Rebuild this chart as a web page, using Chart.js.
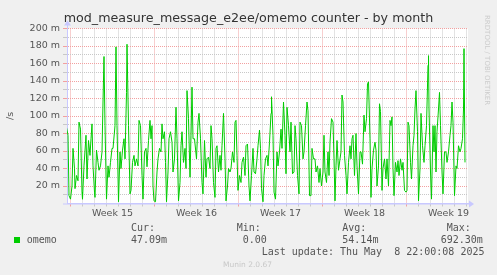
<!DOCTYPE html>
<html><head><meta charset="utf-8">
<script src="https://cdn.jsdelivr.net/npm/chart.js@4/dist/chart.umd.min.js"></script>
<style>html,body{margin:0;padding:0;background:#f0f0f0;overflow:hidden}canvas{display:block}</style>
</head><body>
<canvas id="c" width="497" height="275"></canvas>
<script>
// ---- chart content ----
const titleText = 'mod_measure_message_e2ee/omemo counter - by month';
const yAxisTitle = '/s';
const seriesName = 'omemo';
// week boundaries, in hours since Sun 6 Apr 2025 00:00
const weekStarts = [0, 168, 336, 504, 672];
const weekLabels = ['Week 15', 'Week 16', 'Week 17', 'Week 18', 'Week 19'];
const yTickValues = [0,10,20,30,40,50,60,70,80,90,100,110,120,130,140,150,160,170,180,190,200];
// sample times (hours since Sun 6 Apr 2025 00:00)
const hours = [
  -8,-5,-3,0,3,5,8,9,12,15, 17,20,23,24,27,31,33,36,39,41,
  43,45,48,49,52,55,57,60,63,65, 67,69,72,75,77,80,83,85,89,91,
  93,96,99,101,104,107,109,112,113,116, 119,121,124,127,129,132,135,137,140,143,
  145,148,151,153,156,159,161,163,165,167, 170,173,175,178,181,183,185,188,190,192,
  195,197,200,203,205,208,211,213,216,219, 221,223,226,229,231,233,236,239,241,243,
  245,248,
  252,255,257,260,263,265,268,271,273,276, 279,281,283,286,289,291,293,296,299,301,
  303,306,309,311,314,316,319,321,324,327, 329,331,333,335,338,341,343,346,349,351,
  354,357,359,362,365,367,370,373,375,378, 380,382,385,387,390,393,395,398,401,402,
  405,407,410,413,415,418,421,423,426,429, 431,433,436,439,441,444,447,449,451,454,
  457,459,462,465,467,470,473,475,478,481, 483,486,489,491,494,497,499,502,505,507,
  509,512,515,517,
  519,522,525,527,529,531,533,536,539,541, 543,545,548,551,553,556,559,561,563,565,
  568,571,573,576,579,581,584,587,589,592, 594,596,599,601,603,606,609,611,613,616,
  618,620,623,625,628,631,633,636,639,641, 643,645,647,650,653,655,657,660,663,665,
  668,671,673,675,677,680,682,685,687,689, 691,694,696,699,701,704,707,709,712,715,
  716,717,720,722,725,727,729,731,733,736, 738,740,743,745,748,751,753,756,759,761,
  763,765,768,771,773,776,779,781,784,786, 787,789
];
// omemo counter, in milli-events per second (m/s)
const omemo = [
  87,78,9,5,20,63,40,17,32,26, 93,85,13,5,43,78,28,72,55,74,
  91,43,13,7,61,47,38,43,59,116, 168,89,5,43,30,47,63,63,89,179,
  89,2,59,40,61,74,51,127,182,89, 11,15,47,55,43,51,43,95,89,32,
  5,59,63,42,72,95,74,89,20,3, 2,36,51,63,59,91,74,82,47,2,
  36,74,82,70,36,51,110,74,3,24, 66,82,47,63,40,129,97,30,78,133,
  74,74,
  51,93,103,74,24,11,72,30,51,53, 40,89,74,24,7,63,66,36,55,38,
  66,103,51,3,20,40,36,40,59,47, 93,95,55,15,32,24,47,53,32,66,
  68,20,3,32,63,36,34,51,66,84, 63,17,2,32,51,55,43,70,103,122,
  78,13,5,59,43,59,85,63,116,78, 34,110,89,59,93,34,36,89,74,32,
  11,93,89,51,59,89,116,106,9,9, 63,51,51,36,43,24,40,20,36,78,
  36,24,59,32,
  70,97,93,51,3,43,72,38,51,59, 124,116,55,32,11,47,66,51,74,78,
  32,80,43,11,59,59,45,101,82,97, 137,139,74,7,40,61,70,61,20,43,
  114,105,15,40,51,28,51,20,95,89, 99,40,9,47,36,49,32,51,38,47,
  15,13,15,93,89,47,28,66,78,108, 129,82,3,40,103,66,47,66,89,158,
  169,108,36,5,89,59,89,36,82,108, 127,89,36,11,59,59,47,59,78,89,
  116,93,9,43,40,66,59,63,74,108, 177,47
];
const legendHeaders = ['Cur:', 'Min:', 'Avg:', 'Max:'];
const legendValues = ['47.09m', '0.00', '54.14m', '692.30m'];
const lastUpdate = 'Last update: Thu May  8 22:00:08 2025';
const footerText = 'Munin 2.0.67';
const watermark = 'RRDTOOL / TOBI OETIKER';

// ---- styles ----
const LINE = '#00cc00';
const MAJOR = '#f2a0a0';
const MINOR = '#c8c8c8';
const AXIS = '#c8c8ff';
const TXT = '#555555';
const NONE = 'rgba(0,0,0,0)';
const weekMids = weekStarts.map(w => w + 84);

const points = hours.map((h, i) => ({x: h, y: omemo[i]}));

function xGrid(ctx) {
  const t = ctx.tick; if (!t) return NONE;
  if (weekMids.includes(t.value)) return NONE;
  return (t.value % 168 === 0) ? MAJOR : MINOR;
}
function yGrid(ctx) {
  const t = ctx.tick; if (!t) return NONE;
  if (t.value === 0) return NONE;
  return (t.value % 20 === 0) ? MAJOR : MINOR;
}

const decor = {
  id: 'decor',
  beforeDraw(chart) {
    const c = chart.ctx, a = chart.chartArea;
    c.save();
    c.fillStyle = '#f0f0f0'; c.fillRect(0, 0, chart.width, chart.height);
    c.fillStyle = '#ffffff'; c.fillRect(a.left, a.top, a.right - a.left, a.bottom - a.top);
    c.restore();
  },
  afterDraw(chart) {
    const c = chart.ctx, a = chart.chartArea;
    c.save();
    // axis arrows
    c.strokeStyle = AXIS; c.fillStyle = AXIS; c.lineWidth = 1;
    c.beginPath(); c.moveTo(a.left - 4, a.bottom + 0.5); c.lineTo(a.right + 2, a.bottom + 0.5); c.stroke();
    c.beginPath(); c.moveTo(a.left + 0.5, a.top); c.lineTo(a.left + 0.5, a.top - 5); c.stroke();
    c.beginPath(); c.moveTo(a.right + 1, a.bottom - 3); c.lineTo(a.right + 6, a.bottom + 0.5); c.lineTo(a.right + 1, a.bottom + 4); c.closePath(); c.fill();
    c.beginPath(); c.moveTo(a.left - 3, a.top - 3); c.lineTo(a.left + 0.5, a.top - 8); c.lineTo(a.left + 4, a.top - 3); c.closePath(); c.fill();
    // legend
    c.fillStyle = TXT; c.textBaseline = 'alphabetic'; c.textAlign = 'left';
    c.font = '10px "DejaVu Sans Mono"';
    const cols = [131, 236.7, 342.3, 446.7];
    const vcols = [131, 242.7, 342.3, 440.7];
    legendHeaders.forEach((h, i) => c.fillText(h, cols[i], 231));
    legendValues.forEach((v, i) => c.fillText(v, vcols[i], 243));
    c.fillText(seriesName, 26.7, 243);
    c.fillText(lastUpdate, 261.7, 255);
    c.fillStyle = LINE; c.fillRect(14, 237, 6, 6);
    c.fillStyle = '#c8c8c8'; c.font = '7.5px "DejaVu Sans"';
    c.fillText(footerText, 223, 266.7);
    // watermark
    c.fillStyle = '#cccccc'; c.font = '7px "DejaVu Sans"';
    c.translate(485, 15); c.rotate(Math.PI / 2);
    c.fillText(watermark, 0, 0);
    c.restore();
  }
};

new Chart(document.getElementById('c'), {
  type: 'line',
  data: { datasets: [{ label: seriesName, data: points, borderColor: LINE, borderWidth: 1,
    pointRadius: 0, tension: 0, fill: false, yAxisID: 'y' }] },
  options: {
    responsive: false, animation: false, devicePixelRatio: 1,
    layout: { padding: 0 },
    plugins: {
      legend: { display: false }, tooltip: { enabled: false },
      title: { display: true, text: titleText, color: '#333333',
        font: { family: 'DejaVu Sans', size: 12.7, weight: 'normal', lineHeight: 1.2 },
        padding: { top: 11.2, bottom: 2.06 } }
    },
    scales: {
      x: {
        type: 'linear', min: -7, max: 795,
        afterBuildTicks: s => {
          const t = [];
          for (let h = 0; h <= 795; h += 24) t.push({ value: h });
          weekMids.forEach(m => t.push({ value: m }));
          t.sort((p, q) => p.value - q.value);
          s.ticks = t;
        },
        ticks: { autoSkip: false, maxRotation: 0, minRotation: 0, padding: 1, color: TXT,
          font: { family: 'DejaVu Sans', size: 9.5 },
          callback: v => { const i = weekMids.indexOf(v); return i >= 0 ? weekLabels[i] : ''; } },
        grid: { color: xGrid, tickColor: xGrid, tickLength: 3, lineWidth: 1 },
        border: { color: AXIS, width: 1, dash: [1, 1] },
        afterFit: s => { s.height = 71.5; }
      },
      y: {
        type: 'linear', min: 0, max: 200,
        afterBuildTicks: s => { s.ticks = yTickValues.map(v => ({ value: v })); },
        ticks: { autoSkip: false, padding: 3, color: TXT,
          font: { family: 'DejaVu Sans', size: 9.5 },
          callback: v => (v % 20 === 0 && v > 0) ? v + ' m' : '' },
        grid: { color: yGrid, tickColor: yGrid, tickLength: 4, lineWidth: 1 },
        border: { color: AXIS, width: 1, dash: [1, 1] },
        title: { display: true, text: yAxisTitle, color: TXT,
          font: { family: 'DejaVu Sans', size: 9.5 }, padding: { top: 5, bottom: 0 } },
        afterFit: s => { s.width = 67; }
      },
      yRight: {
        type: 'linear', position: 'right', min: 0, max: 200, display: true,
        grid: { display: false, drawOnChartArea: false, drawTicks: false },
        ticks: { display: false },
        border: { display: false },
        afterFit: s => { s.width = 29; }
      }
    }
  },
  plugins: [decor]
});
</script>
</body></html>
